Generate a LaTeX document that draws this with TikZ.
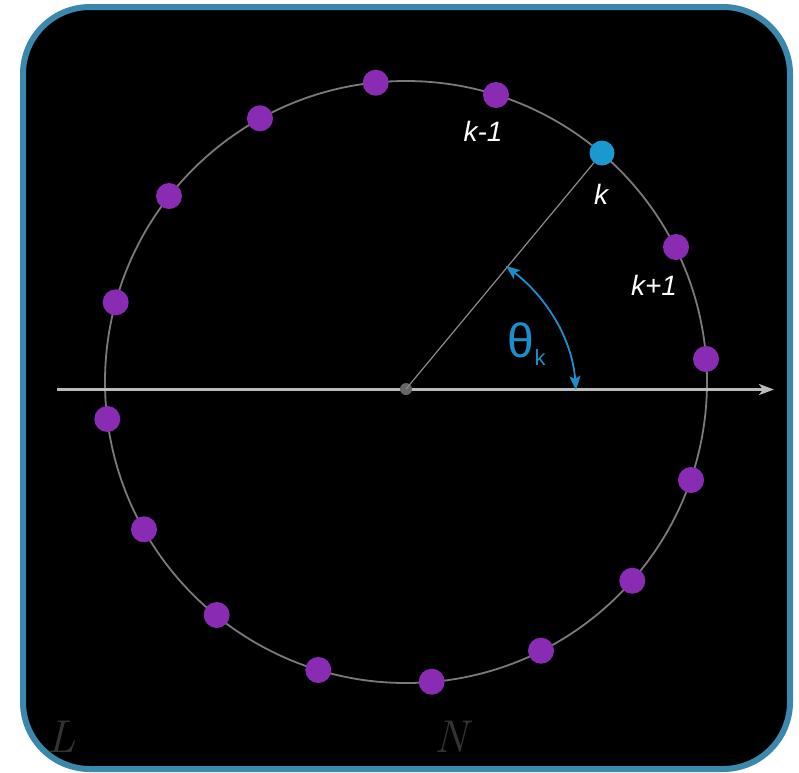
\documentclass[tikz,border=0pt]{standalone}
\usepackage{fontspec}
\setmainfont{Liberation Sans}
\newfontfamily\lmserif{Latin Modern Roman}
\usetikzlibrary{arrows.meta}
\definecolor{frameblue}{HTML}{3A89AD}
\definecolor{dotpurple}{HTML}{8A2BB4}
\definecolor{dotblue}{HTML}{1A98D0}
\definecolor{thetablue}{HTML}{1A8FCC}
\definecolor{ringgrey}{HTML}{7A7A7A}
\definecolor{axisgrey}{HTML}{BBBBBB}
\definecolor{cornertext}{HTML}{333333}
\tikzset{
  pdot/.style={circle,fill=dotpurple,inner sep=0pt,minimum size=26pt},
  bdot/.style={circle,fill=dotblue,inner sep=0pt,minimum size=25pt},
  klabel/.style={text=white,font=\fontsize{28}{28}\selectfont\itshape,inner sep=0pt},
  corner/.style={text=cornertext,font=\lmserif\fontsize{46}{46}\selectfont\itshape,inner sep=0pt},
  angtip/.tip={Stealth[length=14pt,width=11pt,inset=3pt]}
}
\begin{document}
\begin{tikzpicture}[x=1pt,y=-1pt]
\useasboundingbox (0,0) rectangle (799,772);
% frame
\draw[frameblue,line width=6pt,fill=black,rounded corners=67pt] (23,7) rectangle (790,769);
% ring
\coordinate (c) at (406,382);
\draw[ringgrey,line width=1.8pt] (c) circle (301);
% axis
\coordinate (axL) at (57,389.5);
\coordinate (axR) at (774,389.5);
\draw[axisgrey,line width=2.6pt,-{Stealth[length=15pt,width=11pt,inset=4pt]}] (axL) -- (axR);
% centre
\node[circle,fill=black!60,inner sep=0pt,minimum size=12pt] (o) at (406,389) {};
% dots
\node[pdot] (d1) at (375.7,82.7) {};
\node[pdot] (d2) at (496,95) {};
\node[bdot] (d3) at (602,153) {};
\node[pdot] (d4) at (676,247) {};
\node[pdot] (d5) at (706,359) {};
\node[pdot] (d6) at (691,480) {};
\node[pdot] (d7) at (632.3,580.7) {};
\node[pdot] (d8) at (541,650.7) {};
\node[pdot] (d9) at (431.7,681.7) {};
\node[pdot] (d10) at (318.3,670) {};
\node[pdot] (d11) at (216.7,615) {};
\node[pdot] (d12) at (144,529.3) {};
\node[pdot] (d13) at (107.3,419) {};
\node[pdot] (d14) at (115.7,302.3) {};
\node[pdot] (d15) at (169,196) {};
\node[pdot] (d16) at (260,118.3) {};
% radius
\draw[black!45,line width=1.2pt] (o.center) -- (d3);
% angle arc
\coordinate (a1) at (506,266);
\coordinate (a2) at (576,390);
\draw[thetablue,line width=1.8pt,angtip-angtip]
  (a1) .. controls (546,297) and (572,338) .. (a2);
\node[text=thetablue,font=\fontsize{48}{48}\selectfont,inner sep=0pt] (th) at (521,340) {θ};
\node[text=thetablue,font=\fontsize{22}{22}\selectfont,inner sep=0pt] (thk) at (540,358) {k};
% labels
\node[klabel] (lkm) at (483,131) {k-1};
\node[klabel] (lk) at (601,194) {k};
\node[klabel] (lkp) at (654,285) {k+1};
% corner letters
\node[corner] (L) at (62,737) {L};
\node[corner] (N) at (451,737) {N};
\end{tikzpicture}
\end{document}
